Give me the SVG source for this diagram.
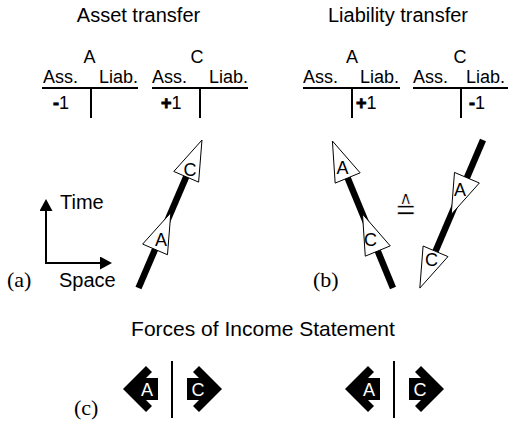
<svg xmlns="http://www.w3.org/2000/svg" width="511" height="421" viewBox="0 0 511 421">
<style>
.t{font-family:"Liberation Sans",Arial,sans-serif;fill:#000}
.h{font-size:20px}
.m{font-size:18px}
.s{font-family:"Liberation Serif","Times New Roman",serif;font-size:22px;fill:#000}
.ln{stroke:#000;stroke-width:2;fill:none}
.thick{stroke:#000;stroke-width:6.5;fill:none}
.tri{fill:#fff;stroke:#000;stroke-width:1}
.w{font-family:"Liberation Sans",Arial,sans-serif;font-size:18px;fill:#fff;text-anchor:middle}
.b{font-weight:bold;stroke:#000;stroke-width:0.8}
</style>
<defs>
<marker id="ah" viewBox="0 0 12 13" refX="0" refY="6.5" markerWidth="12" markerHeight="13" markerUnits="userSpaceOnUse" orient="auto">
<path d="M0,0 L12,6.5 L0,13 Z" fill="#000"/>
</marker>
<path id="fl" d="M-23,0 L0,-23 L6,-17 L0,-11 L12,-11 L12,11 L0,11 L6,17 L0,23 Z" fill="#000"/>
<path id="fr" d="M23,0 L0,-23 L-6,-17 L0,-11 L-12,-11 L-12,11 L0,11 L-6,17 L0,23 Z" fill="#000"/>
</defs>
<rect width="511" height="421" fill="#fff"/>

<g id="titles">
<text class="t h" x="138.5" y="22" text-anchor="middle">Asset transfer</text>
<text class="t h" x="398" y="22" text-anchor="middle">Liability transfer</text>
<text class="t" x="263" y="336" text-anchor="middle" style="font-size:21px">Forces of Income Statement</text>
</g>

<g id="account-A-asset">
<text class="t m" x="89.5" y="63" text-anchor="middle">A</text>
<text class="t m" x="43" y="83">Ass.</text>
<text class="t m" x="138" y="83" text-anchor="end">Liab.</text>
<line class="ln" x1="42" y1="88" x2="138" y2="88"/>
<line class="ln" x1="91" y1="88" x2="91" y2="118"/>
<text class="t m" x="53" y="109"><tspan class="b">-</tspan>1</text>
</g>
<g id="account-C-asset">
<text class="t m" x="197" y="63" text-anchor="middle">C</text>
<text class="t m" x="152" y="83">Ass.</text>
<text class="t m" x="248" y="83" text-anchor="end">Liab.</text>
<line class="ln" x1="152" y1="88" x2="248" y2="88"/>
<line class="ln" x1="200" y1="88" x2="200" y2="118"/>
<text class="t m" x="161" y="109"><tspan class="b">+</tspan>1</text>
</g>
<g id="account-A-liab">
<text class="t m" x="352" y="63" text-anchor="middle">A</text>
<text class="t m" x="303" y="83">Ass.</text>
<text class="t m" x="399" y="83" text-anchor="end">Liab.</text>
<line class="ln" x1="303" y1="88" x2="400" y2="88"/>
<line class="ln" x1="352" y1="88" x2="352" y2="118"/>
<text class="t m" x="356" y="109"><tspan class="b">+</tspan>1</text>
</g>
<g id="account-C-liab">
<text class="t m" x="460" y="63" text-anchor="middle">C</text>
<text class="t m" x="413" y="83">Ass.</text>
<text class="t m" x="505" y="83" text-anchor="end">Liab.</text>
<line class="ln" x1="413" y1="88" x2="508" y2="88"/>
<line class="ln" x1="461" y1="88" x2="461" y2="118"/>
<text class="t m" x="469" y="109"><tspan class="b">-</tspan>1</text>
</g>

<g id="axes">
<line class="ln" x1="46" y1="264" x2="46" y2="211" marker-end="url(#ah)"/>
<line class="ln" x1="45" y1="263" x2="100" y2="263" marker-end="url(#ah)"/>
<text class="t h" x="60" y="209">Time</text>
<text class="t h" x="59" y="287">Space</text>
</g>

<g id="connectors">
<line class="thick" x1="138.5" y1="288" x2="186.21" y2="176.8"/>
<line class="thick" x1="393" y1="288" x2="347.65" y2="177.98"/>
<line class="thick" x1="483" y1="140" x2="435.52" y2="251.3"/>
</g>

<g id="a-A">
<polygon class="tri" points="142.65,244.08 167.47,254.72 170.83,212.64"/>
<text class="t m" x="161" y="245.5" text-anchor="middle">A</text>
</g>
<g id="a-C">
<polygon class="tri" points="173.80,171.48 198.62,182.12 201.98,140.04"/>
<text class="t m" x="190" y="175.5" text-anchor="middle">C</text>
</g>
<g id="bl-C">
<polygon class="tri" points="365.28,256.16 390.24,245.88 362.51,214.04"/>
<text class="t m" x="370.5" y="246" text-anchor="middle">C</text>
</g>
<g id="bl-A">
<polygon class="tri" points="335.17,183.12 360.13,172.84 332.41,141.0"/>
<text class="t m" x="342.5" y="173.5" text-anchor="middle">A</text>
</g>
<g id="br-A">
<polygon class="tri" points="454.49,172.41 479.33,183.01 451.22,214.50"/>
<text class="t m" x="460" y="196" text-anchor="middle">A</text>
</g>
<g id="br-C">
<polygon class="tri" points="423.10,246.0 447.94,256.60 419.82,288.09"/>
<text class="t m" x="431.5" y="266" text-anchor="middle">C</text>
</g>

<g id="equiv">
<text transform="translate(405.5,220) scale(1.1,1.35)" text-anchor="middle" style="font-family:'DejaVu Sans',sans-serif;font-size:24px;stroke:#fff;stroke-width:0.6">≙</text>
</g>

<g id="labels">
<text class="s" x="7" y="287">(a)</text>
<text class="s" x="313" y="287">(b)</text>
<text class="s" x="74" y="415">(c)</text>
</g>

<g id="force-1">
<use href="#fl" x="146" y="389"/>
<text class="w" x="147" y="395.5">A</text>
<line class="ln" x1="172" y1="361" x2="172" y2="418"/>
<use href="#fr" x="199" y="389"/>
<text class="w" x="198" y="395.5">C</text>
</g>
<g id="force-2">
<use href="#fl" x="368" y="389"/>
<text class="w" x="369" y="395.5">A</text>
<line class="ln" x1="394" y1="361" x2="394" y2="418"/>
<use href="#fr" x="421" y="389"/>
<text class="w" x="420" y="395.5">C</text>
</g>
</svg>
